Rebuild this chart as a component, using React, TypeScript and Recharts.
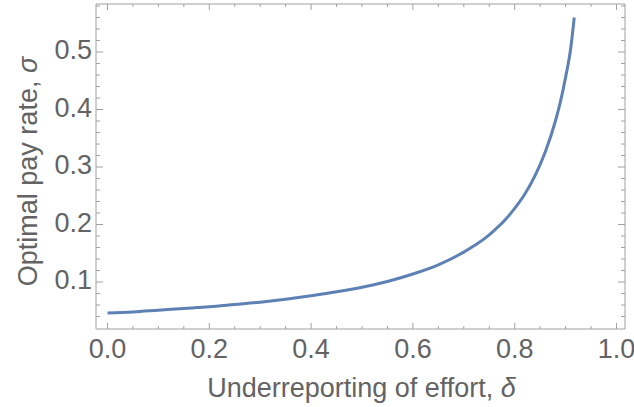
import { LineChart, Line, XAxis, YAxis } from 'recharts'

// underreporting of effort (delta) and optimal pay rate (sigma)
const DELTA = [0, 0.05, 0.1, 0.15, 0.2, 0.25, 0.3, 0.35, 0.4, 0.45, 0.5, 0.55, 0.6, 0.65, 0.7, 0.72, 0.74, 0.76, 0.78, 0.8, 0.82, 0.84, 0.86, 0.88, 0.89, 0.9, 0.91, 0.917]
const SIGMA = [0.046, 0.048, 0.051, 0.054, 0.057, 0.061, 0.065, 0.07, 0.076, 0.083, 0.091, 0.101, 0.114, 0.13, 0.152, 0.163, 0.175, 0.19, 0.207, 0.228, 0.253, 0.285, 0.326, 0.38, 0.414, 0.456, 0.506, 0.56]

const X_MAJOR = [0, 0.2, 0.4, 0.6, 0.8, 1.0]
const X_TICKS = [0, 0.05, 0.1, 0.15, 0.2, 0.25, 0.3, 0.35, 0.4, 0.45, 0.5, 0.55, 0.6, 0.65, 0.7, 0.75, 0.8, 0.85, 0.9, 0.95, 1.0]
const Y_MAJOR = [0.1, 0.2, 0.3, 0.4, 0.5]
const Y_TICKS = [0.04, 0.06, 0.08, 0.1, 0.12, 0.14, 0.16, 0.18, 0.2, 0.22, 0.24, 0.26, 0.28, 0.3, 0.32, 0.34, 0.36, 0.38, 0.4, 0.42, 0.44, 0.46, 0.48, 0.5, 0.52, 0.54, 0.56, 0.58]

const X_DOMAIN: [number, number] = [-0.0226, 1.0167]
const Y_DOMAIN: [number, number] = [0.0183, 0.5835]

const FRAME = '#a0a0a0'
const TEXT = '#636363'
const CURVE = '#5E81B5'
const FONT = '"Liberation Sans", Arial, Helvetica, sans-serif'
const FONT_SIZE = 27

const data = DELTA.map((d, i) => ({ delta: d, sigma: SIGMA[i] }))

const isMajor = (v: number, majors: number[]) => majors.some(m => Math.abs(m - v) < 1e-6)

function BottomTick(props: any) {
  const { x, y, payload } = props
  const major = isMajor(payload.value, X_MAJOR)
  return (
    <g>
      <line x1={x} x2={x} y1={y} y2={y - (major ? 6 : 3)} stroke={FRAME} />
      {major && (
        <text x={x} y={y + 28.5} textAnchor="middle" fill={TEXT} fontSize={FONT_SIZE} fontFamily={FONT}>
          {payload.value.toFixed(1)}
        </text>
      )}
    </g>
  )
}

function TopTick(props: any) {
  const { x, y, payload } = props
  const major = isMajor(payload.value, X_MAJOR)
  return <line x1={x} x2={x} y1={y} y2={y + (major ? 6 : 3)} stroke={FRAME} />
}

function LeftTick(props: any) {
  const { x, y, payload } = props
  const major = isMajor(payload.value, Y_MAJOR)
  return (
    <g>
      <line x1={x} x2={x + (major ? 7 : 4)} y1={y} y2={y} stroke={FRAME} />
      {major && (
        <text x={x - 4} y={y + 7} textAnchor="end" fill={TEXT} fontSize={FONT_SIZE} fontFamily={FONT}>
          {payload.value.toFixed(1)}
        </text>
      )}
    </g>
  )
}

function RightTick(props: any) {
  const { x, y, payload } = props
  const major = isMajor(payload.value, Y_MAJOR)
  return <line x1={x} x2={x - (major ? 7 : 4)} y1={y} y2={y} stroke={FRAME} />
}

function XLabel(props: any) {
  const vb = props.viewBox
  return (
    <text x={vb.x + vb.width / 2 + 1} y={vb.y + 67.5} textAnchor="middle" fill={TEXT} fontSize={FONT_SIZE} fontFamily={FONT}>
      Underreporting of effort, <tspan fontStyle="italic">δ</tspan>
    </text>
  )
}

function YLabel(props: any) {
  const vb = props.viewBox
  const cy = vb.y + vb.height / 2 + 5
  const bx = 37
  return (
    <text x={bx} y={cy} transform={`rotate(-90, ${bx}, ${cy})`} textAnchor="middle" fill={TEXT} fontSize={FONT_SIZE} fontFamily={FONT}>
      Optimal pay rate, <tspan fontStyle="italic">σ</tspan>
    </text>
  )
}

export default function App() {
  return (
    <div style={{ position: 'absolute', left: 0, top: 0, width: 634, height: 407, background: '#fff' }}>
      <LineChart width={634} height={407} data={data} margin={{ top: 3, right: 8, bottom: 77, left: 95 }}>
        <XAxis
          xAxisId="bottom"
          dataKey="delta"
          type="number"
          orientation="bottom"
          domain={X_DOMAIN}
          allowDataOverflow
          ticks={X_TICKS}
          interval={0}
          height={1}
          tickSize={0}
          tickMargin={0}
          tickLine={false}
          axisLine={{ stroke: FRAME }}
          tick={BottomTick}
          label={{ content: XLabel }}
        />
        <XAxis
          xAxisId="top"
          dataKey="delta"
          type="number"
          orientation="top"
          domain={X_DOMAIN}
          allowDataOverflow
          ticks={X_TICKS}
          interval={0}
          height={1}
          tickSize={0}
          tickMargin={0}
          tickLine={false}
          axisLine={{ stroke: FRAME }}
          tick={TopTick}
        />
        <YAxis
          yAxisId="left"
          type="number"
          orientation="left"
          domain={Y_DOMAIN}
          allowDataOverflow
          ticks={Y_TICKS}
          interval={0}
          width={1}
          tickSize={0}
          tickMargin={0}
          tickLine={false}
          axisLine={{ stroke: FRAME }}
          tick={LeftTick}
          label={{ content: YLabel }}
        />
        <YAxis
          yAxisId="right"
          type="number"
          orientation="right"
          domain={Y_DOMAIN}
          allowDataOverflow
          ticks={Y_TICKS}
          interval={0}
          width={1}
          tickSize={0}
          tickMargin={0}
          tickLine={false}
          axisLine={{ stroke: FRAME }}
          tick={RightTick}
        />
        <Line
          xAxisId="bottom"
          yAxisId="left"
          type="monotone"
          dataKey="sigma"
          stroke={CURVE}
          strokeWidth={3}
          dot={false}
          activeDot={false}
          isAnimationActive={false}
        />
      </LineChart>
    </div>
  )
}
